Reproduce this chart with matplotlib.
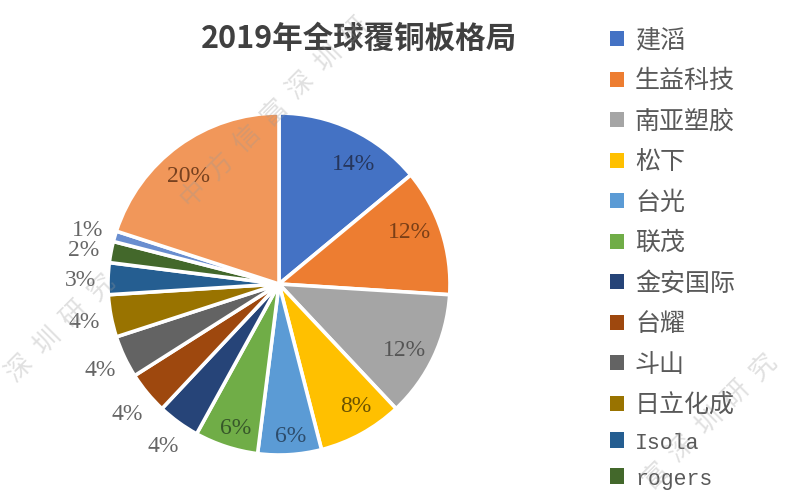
import matplotlib.pyplot as plt
from matplotlib.patches import Patch

names = ['建滔', '生益科技', '南亚塑胶', '松下', '台光', '联茂', '金安国际', '台耀',
         '斗山', '日立化成', 'Isola', 'rogers']
shares = [14, 12, 12, 8, 6, 6, 4, 4, 4, 4, 3, 2, 1, 20]
colors = ['#4472c4', '#ed7d31', '#a5a5a5', '#ffc000', '#5b9bd5', '#70ad47', '#264478',
          '#9e480e', '#636363', '#997300', '#255e91', '#43682b', '#698ed0', '#f1975a']

# label positions in pixels, measured from the top left of the picture
label_x = [354, 409, 404, 356, 291, 236, 163, 127, 100, 84, 81, 84, 88, 188]
label_y = [165, 232, 350, 406, 437, 429, 447, 414, 371, 323, 281, 250, 231, 177]
label_colors = ['#26365c', '#7a3f17', '#555555', '#6b5200', '#2d4c6b', '#37572a', '#666666',
                '#666666', '#666666', '#666666', '#666666', '#666666', '#666666', '#77411f']

plt.rcParams['font.family'] = ['Noto Sans CJK SC', 'DejaVu Sans']

fig = plt.figure(figsize=(8, 5), dpi=100)
ax = fig.add_axes([0, 0, 1, 1])

wedges, _ = ax.pie(shares, colors=colors, startangle=90, counterclock=False,
                   center=(279, 216), radius=171,
                   wedgeprops={'edgecolor': 'white', 'linewidth': 2.6})
ax.set_xlim(0, 800)
ax.set_ylim(0, 500)
ax.axis('off')

for x, y, share, c in zip(label_x, label_y, shares, label_colors):
    ax.text(x, 500 - y, f'{share}%', ha='center', va='center', fontsize=17,
            color=c, family='Liberation Serif', zorder=5)

ax.text(359, 500 - 39, '2019年全球覆铜板格局', ha='center', va='center', fontsize=22,
        fontweight='bold', color='#404040')

handles = [Patch(facecolor=c, edgecolor='none') for c in colors[:12]]
leg = ax.legend(handles, names, loc='upper left', bbox_to_anchor=(0.7625, 0.945),
                frameon=False, fontsize=18, labelspacing=0.58, handlelength=0.56,
                handleheight=0.56, handletextpad=0.44, borderaxespad=0, borderpad=0,
                labelcolor='#595959')
for t in leg.get_texts():
    t.set_fontweight('light')
for t in leg.get_texts()[10:]:
    t.set_family('Liberation Mono')
    t.set_fontsize(15.5)

# faint watermark running across the chart, one character at a time
watermarks = [(193, 193, '中方信富深圳研'), (20, 368, '深圳研究'), (655, 475, '富深圳研究')]
for x0, y0, s in watermarks:
    for i, ch in enumerate(s):
        ax.text(x0 + 27 * i, 500 - (y0 - 27 * i), ch, rotation=45, ha='center', va='center',
                fontsize=19, fontweight='light', color='#999999', alpha=0.3, zorder=6)

fig.savefig('out.png', dpi=100)
